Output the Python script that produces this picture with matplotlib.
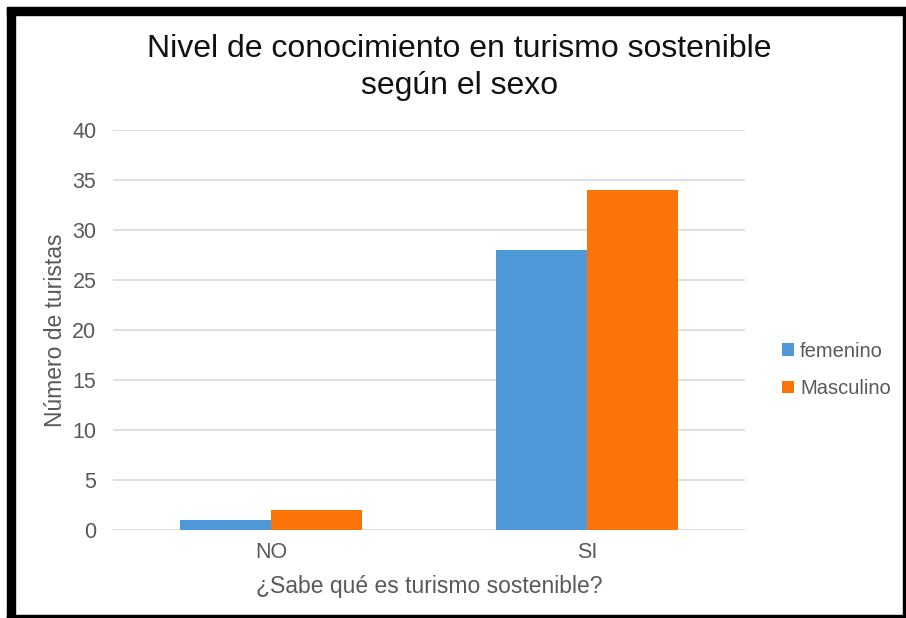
#!/usr/bin/env python3

import matplotlib.pyplot as plt
from matplotlib.patches import Rectangle
import numpy as np

categories = ["NO", "SI"]
femenino = [1, 28]
masculino = [2, 34]
series_names = ["femenino", "Masculino"]
yticks = [0, 5, 10, 15, 20, 25, 30, 35, 40]

plt.rcParams['font.family'] = ['Liberation Sans', 'DejaVu Sans']

BLUE = "#4F99D9"
ORANGE = "#FC7308"
GRAY = "#595959"


def main():
    fig = plt.figure(figsize=(9.06, 6.18), dpi=100)
    ax = fig.add_axes([0.1247, 0.1424, 0.6976, 0.6472])

    x = np.arange(len(categories))
    width = 0.288
    ax.bar(x - width / 2, femenino, width=width, color=BLUE,
           label=series_names[0], zorder=3)
    ax.bar(x + width / 2, masculino, width=width, color=ORANGE,
           label=series_names[1], zorder=3)

    ax.set_xlim(-0.5, len(categories) - 0.5)
    ax.set_ylim(0, 40)
    ax.set_yticks(yticks)
    ax.set_xticks(x)
    ax.set_xticklabels(categories)
    ax.tick_params(length=0, labelsize=15.5, colors=GRAY)
    ax.tick_params(axis='x', pad=9)
    ax.tick_params(axis='y', pad=12)
    ax.grid(axis='y', color="#d9d9d9", linewidth=1.2, zorder=0)
    for side in ["top", "right", "left", "bottom"]:
        ax.spines[side].set_visible(False)

    ax.set_xlabel("¿Sabe qué es turismo sostenible?", fontsize=16.5,
                  color=GRAY, labelpad=8)
    ax.set_ylabel("Número de turistas", fontsize=16.5, color=GRAY,
                  labelpad=4)

    fig.text(0.507, 0.891, "Nivel de conocimiento en turismo sostenible\nsegún el sexo",
             ha="center", va="center", fontsize=23, color="#111111",
             linespacing=1.28)

    ax.legend(loc="center left", bbox_to_anchor=(1.03, 0.40), frameon=False,
              fontsize=14.5, labelcolor=GRAY, handlelength=0.6,
              handleheight=0.6, handletextpad=0.3, labelspacing=0.9)

    # black frame around the picture
    frame = dict(transform=None, color="black", zorder=10)
    fig.patches.append(Rectangle((7, 0), 8, 610, **frame))
    fig.patches.append(Rectangle((7, 603), 899, 8, **frame))
    fig.patches.append(Rectangle((903, 0), 3, 610, **frame))
    fig.patches.append(Rectangle((7, 0), 899, 3, **frame))

    fig.savefig("out.png", dpi=100)
    plt.close(fig)


if __name__ == "__main__":
    main()
